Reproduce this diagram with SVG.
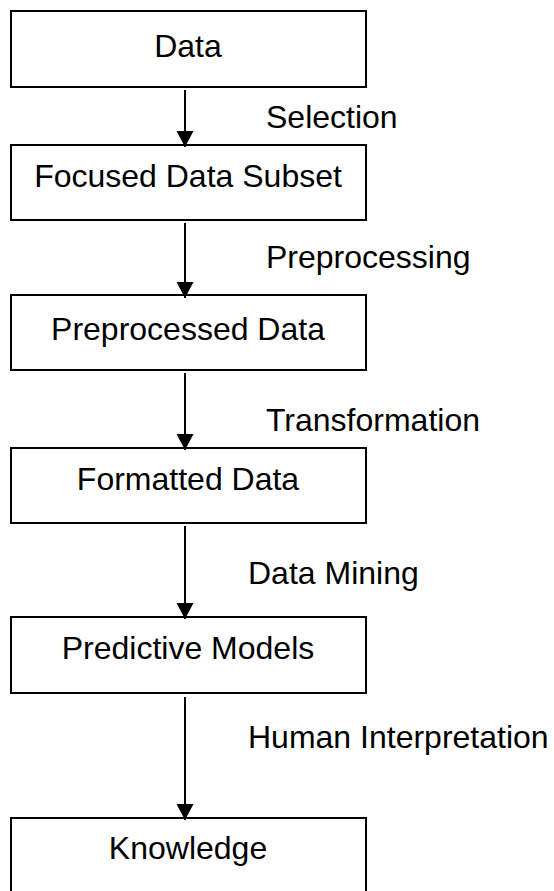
<svg xmlns="http://www.w3.org/2000/svg" width="554" height="891" viewBox="0 0 554 891">
<style>
.box{fill:#fff;stroke:#000;stroke-width:2}
.t{font-family:"Liberation Sans",Arial,sans-serif;font-size:32px;fill:#000}
.n{text-anchor:middle}
.c{stroke:#000;stroke-width:2;fill:none;marker-end:url(#ah)}
</style>
<defs>
<marker id="ah" markerUnits="userSpaceOnUse" markerWidth="16" markerHeight="17" refX="16" refY="8.5" orient="auto" viewBox="0 0 16 17">
<path d="M0,0 L16,8.5 L0,17 Z" fill="#000"/>
</marker>
</defs>
<rect width="554" height="891" fill="#fff"/>
<g id="n1"><rect class="box" x="11" y="11" width="355" height="76"/><text class="t n" x="188" y="57">Data</text></g>
<g id="n2"><rect class="box" x="11" y="145" width="355" height="75"/><text class="t n" x="188" y="187">Focused Data Subset</text></g>
<g id="n3"><rect class="box" x="11" y="295" width="355" height="75"/><text class="t n" x="188" y="340">Preprocessed Data</text></g>
<g id="n4"><rect class="box" x="11" y="448" width="355" height="75"/><text class="t n" x="188" y="490">Formatted Data</text></g>
<g id="n5"><rect class="box" x="11" y="617" width="355" height="76"/><text class="t n" x="188" y="659">Predictive Models</text></g>
<g id="n6"><rect class="box" x="11" y="818" width="355" height="80"/><text class="t n" x="188" y="859">Knowledge</text></g>
<g id="connectors">
<path class="c" d="M185,90 V147"/>
<path class="c" d="M185,223 V298"/>
<path class="c" d="M185,373 V450"/>
<path class="c" d="M185,526 V619"/>
<path class="c" d="M185,697 V820"/>
<text class="t" x="266" y="128">Selection</text>
<text class="t" x="266" y="268">Preprocessing</text>
<text class="t" x="266" y="431">Transformation</text>
<text class="t" x="248" y="584">Data Mining</text>
<text class="t" x="248" y="748">Human Interpretation</text>
</g>
</svg>
